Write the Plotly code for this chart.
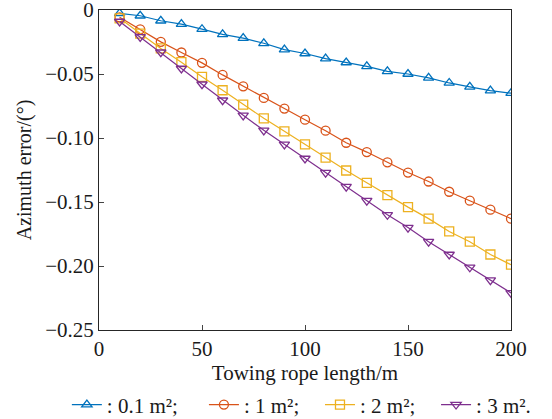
import plotly.graph_objects as go

x = list(range(10, 201, 10))
s01 = [-0.0026, -0.0045, -0.0084, -0.011, -0.015, -0.019, -0.022, -0.026, -0.031, -0.034,
       -0.038, -0.041, -0.044, -0.048, -0.050, -0.053, -0.057, -0.060, -0.063, -0.065]
s1 = [-0.0057, -0.0151, -0.0249, -0.0332, -0.0413, -0.0507, -0.0596, -0.0687, -0.0770, -0.0857,
      -0.0943, -0.1037, -0.111, -0.119, -0.127, -0.134, -0.142, -0.149, -0.156, -0.163]
s2 = [-0.0065, -0.0185, -0.030, -0.0408, -0.0522, -0.0627, -0.0739, -0.0846, -0.0948, -0.1050,
      -0.1154, -0.1254, -0.1350, -0.1447, -0.154, -0.163, -0.173, -0.181, -0.191, -0.199]
s3 = [-0.009, -0.021, -0.033, -0.0457, -0.058, -0.0705, -0.0823, -0.094, -0.105, -0.116,
      -0.127, -0.138, -0.149, -0.160, -0.170, -0.181, -0.191, -0.201, -0.211, -0.221]
names = [": 0.1 m\u00b2;", ": 1 m\u00b2;", ": 2 m\u00b2;", ": 3 m\u00b2."]
pads = [4, 3, 3, 0]
colors = ["#0072BD", "#D95319", "#EDB120", "#7E2F8E"]
symbols = ["triangle-up-open", "circle-open", "square-open", "triangle-down-open"]
yticks = [0, -0.05, -0.10, -0.15, -0.20, -0.25]
yticklabels = ["0", "\u22120.05", "\u22120.10", "\u22120.15", "\u22120.20", "\u22120.25"]
xticks = [0, 50, 100, 150, 200]

fig = go.Figure()
for ys, n, p, c, s in zip([s01, s1, s2, s3], names, pads, colors, symbols):
    fig.add_trace(go.Scatter(x=x, y=ys, name=n + "\u00a0" * p, mode="lines+markers",
                             line=dict(color=c, width=1.2),
                             marker=dict(symbol=s, size=9, color=c, line=dict(width=1.3))))

fam = "Liberation Serif"
font = dict(family=fam, size=21, color="#1a1a1a")
fig.update_layout(
    width=552, height=419,
    margin=dict(l=99, r=41, t=10, b=89, pad=0, autoexpand=False),
    plot_bgcolor="white", paper_bgcolor="white",
    font=font,
    showlegend=True,
    legend=dict(orientation="h", x=-0.078, xanchor="left",
                y=-0.234, yanchor="middle",
                font=font, itemwidth=30, tracegroupgap=0),
)
fig.update_xaxes(range=[0, 200], tickvals=xticks, ticks="inside", ticklen=5,
                 showline=True, linecolor="#262626", linewidth=1, mirror=True,
                 showgrid=False, zeroline=False,
                 title=dict(text="Towing rope length/m", standoff=4,
                            font=dict(family=fam, size=21, color="#1a1a1a")))
fig.update_yaxes(range=[-0.25, 0], tickvals=yticks, ticktext=yticklabels, ticks="inside", ticklen=5,
                 showline=True, linecolor="#262626", linewidth=1, mirror=True,
                 showgrid=False, zeroline=False, ticklabeloverflow="allow",
                 title=dict(text="Azimuth error/(°)", standoff=8,
                            font=dict(family=fam, size=20, color="#1a1a1a")))
fig.write_html("out.html", config={"displayModeBar": False},
               post_script="document.body.style.margin='0';")
